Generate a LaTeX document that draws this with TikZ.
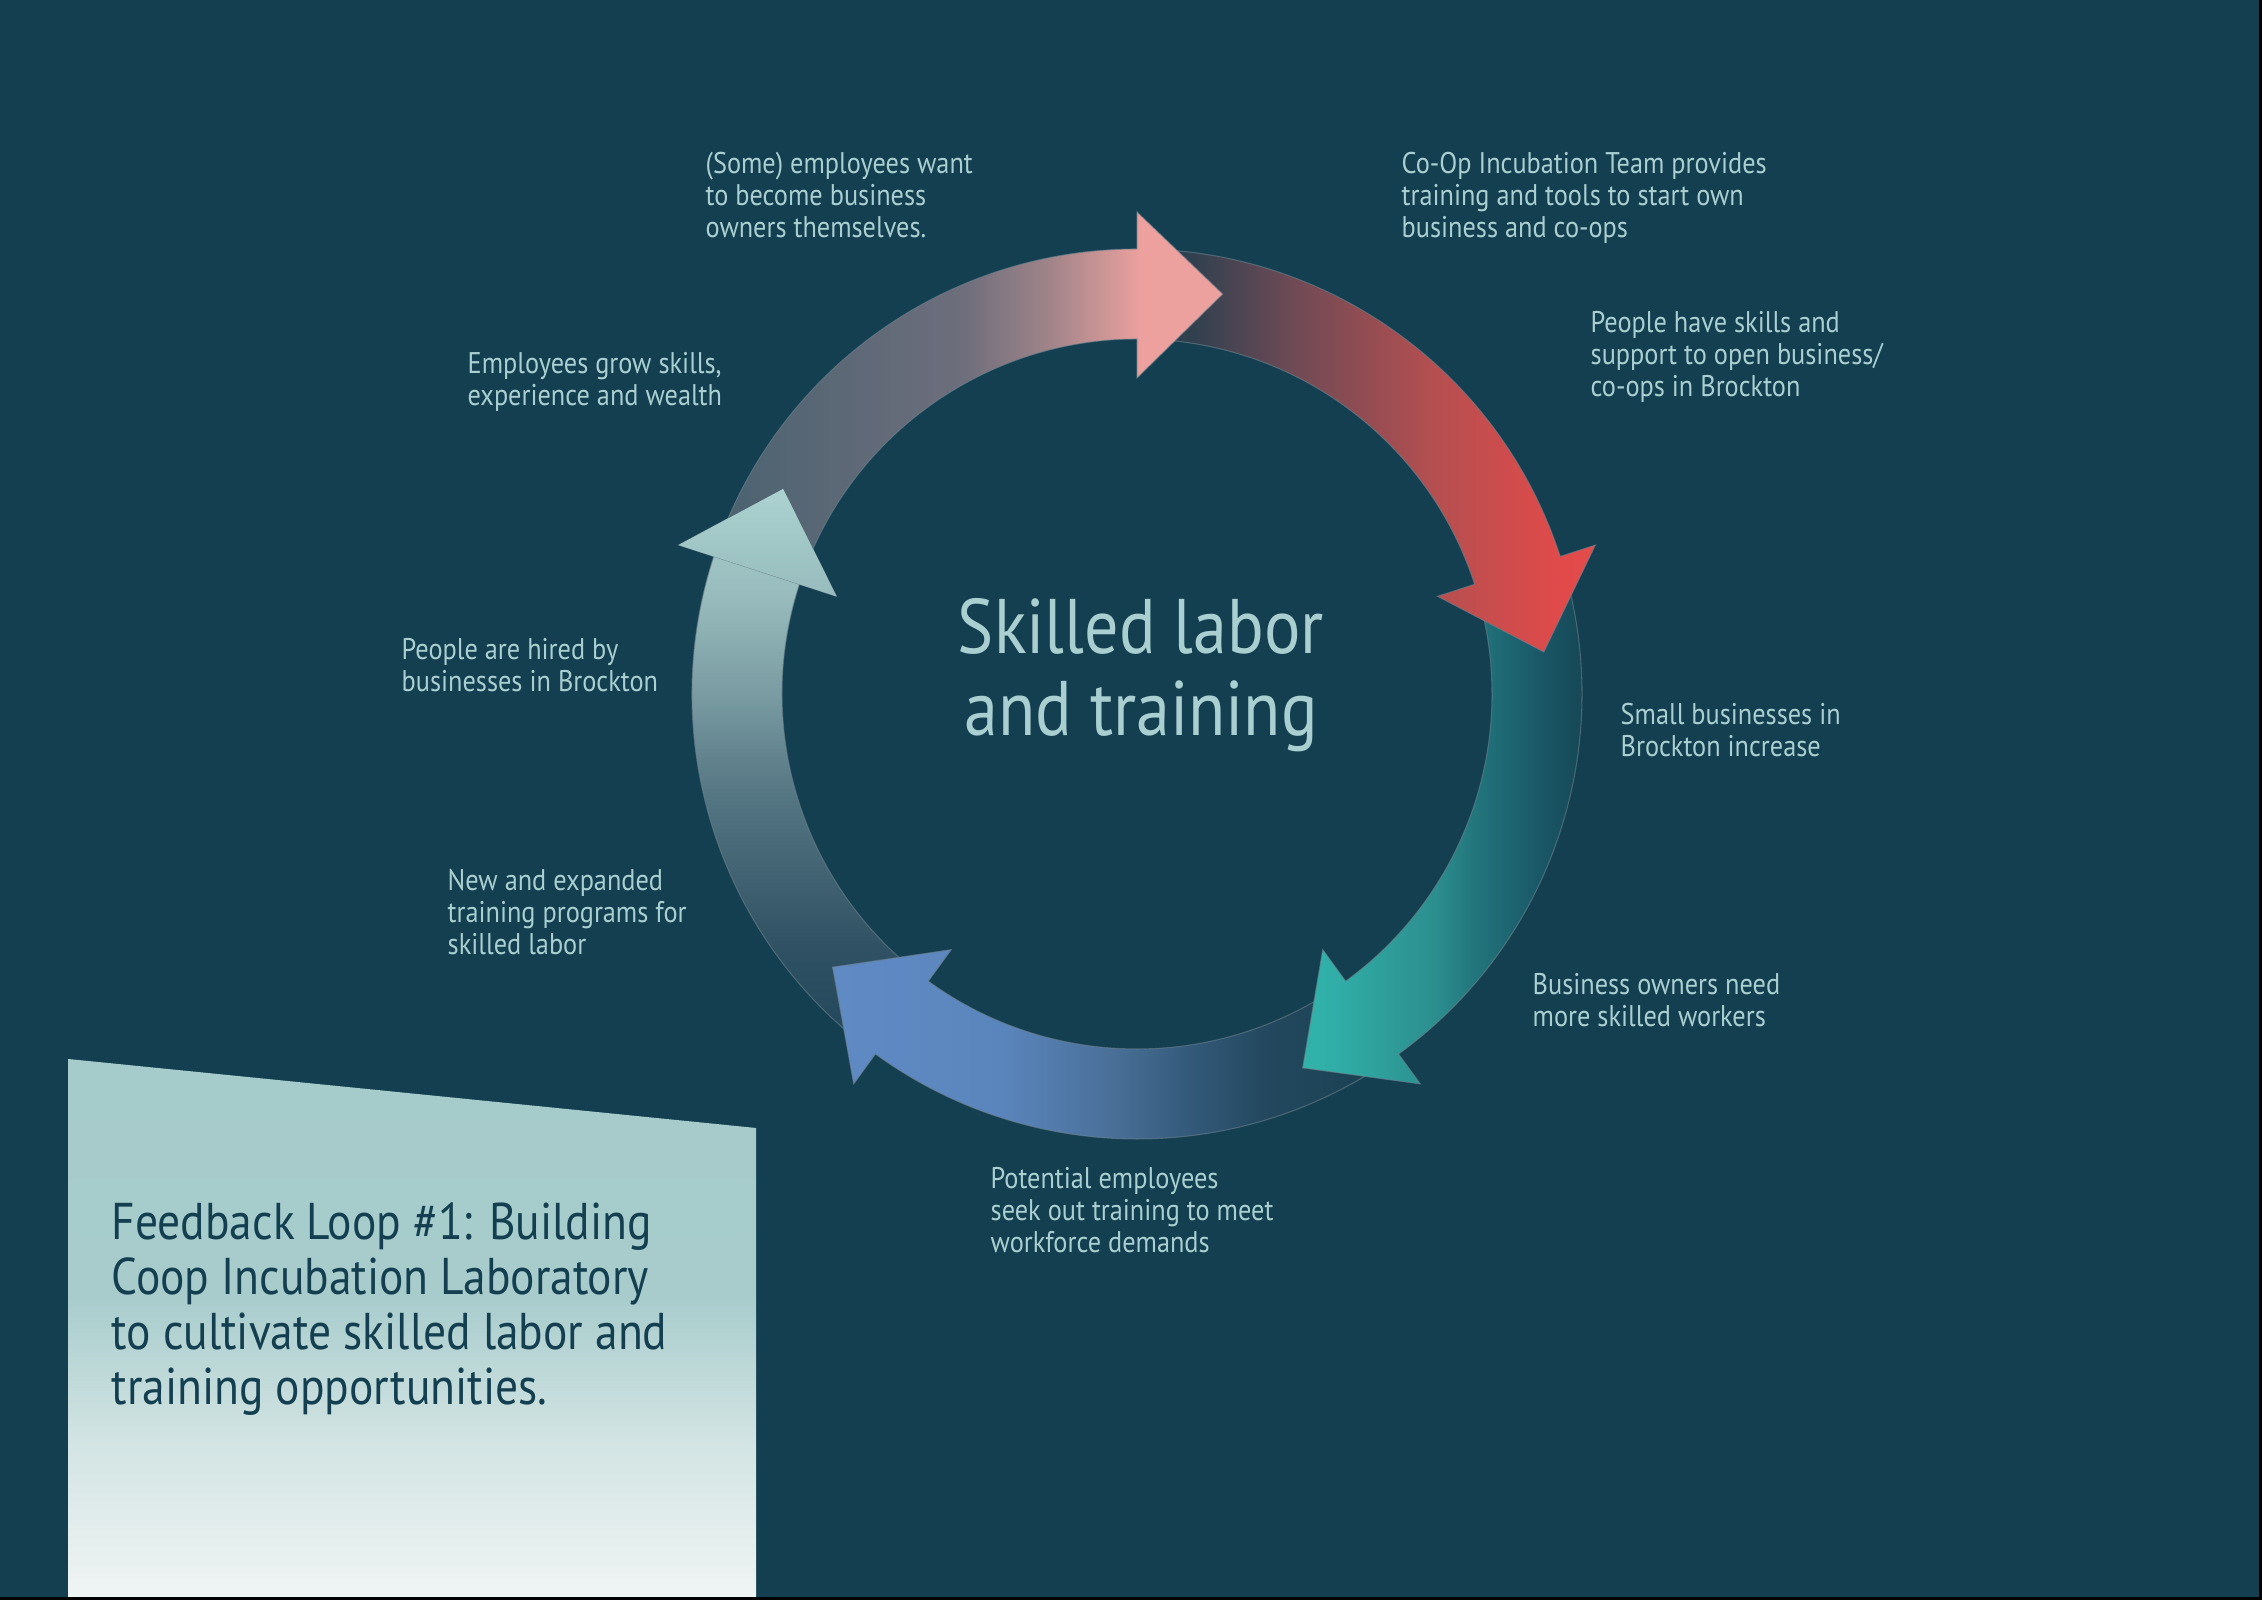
\documentclass[tikz,border=0pt]{standalone}
\usepackage{fontspec}
\setmainfont{PT Sans}[FakeStretch=0.88]
\usetikzlibrary{positioning}

\definecolor{bgteal}{HTML}{133F50}
\definecolor{labeltxt}{HTML}{A9CFD0}
\definecolor{ringedge}{HTML}{6B808C}
% pink arrow
\definecolor{pinkA}{HTML}{4A6270}
\definecolor{pinkB}{HTML}{6E6E7C}
\definecolor{pinkC}{HTML}{A08489}
\definecolor{pinkD}{HTML}{DA9A99}
\definecolor{pinkE}{HTML}{EDA19E}
% red arrow
\definecolor{redA}{HTML}{273F4F}
\definecolor{redB}{HTML}{30404F}
\definecolor{redC}{HTML}{6C4A55}
\definecolor{redD}{HTML}{B54F50}
\definecolor{redE}{HTML}{E14A4A}
\definecolor{redF}{HTML}{E54B4B}
% teal arrow
\definecolor{tealA}{HTML}{31B3AA}
\definecolor{tealB}{HTML}{30AEA7}
\definecolor{tealC}{HTML}{2C8E8E}
\definecolor{tealD}{HTML}{22767C}
\definecolor{tealE}{HTML}{1A5868}
\definecolor{tealF}{HTML}{164654}
\definecolor{tealG}{HTML}{15404F}
% blue arrow
\definecolor{blueA}{HTML}{608AC4}
\definecolor{blueB}{HTML}{5A85BC}
\definecolor{blueC}{HTML}{4A7099}
\definecolor{blueD}{HTML}{355B7C}
\definecolor{blueE}{HTML}{23485F}
\definecolor{blueF}{HTML}{17404F}
% light arrow
\definecolor{lightA}{HTML}{21465A}
\definecolor{lightB}{HTML}{2F5163}
\definecolor{lightC}{HTML}{557683}
\definecolor{lightD}{HTML}{7A9CA2}
\definecolor{lightE}{HTML}{98BCBD}
\definecolor{lightF}{HTML}{ABD1D0}
% note box
\definecolor{boxA}{HTML}{EFF5F4}
\definecolor{boxB}{HTML}{D2E4E3}
\definecolor{boxC}{HTML}{A8CCCC}
\definecolor{boxD}{HTML}{A6CBCB}

\pgfdeclarehorizontalshading{pinkshade}{100bp}{color(0bp)=(pinkA); color(25bp)=(pinkA); color(49.5bp)=(pinkB); color(58bp)=(pinkC); color(65bp)=(pinkD); color(67bp)=(pinkE); color(100bp)=(pinkE)}
\pgfdeclarehorizontalshading{redshade}{100bp}{color(0bp)=(redA); color(25bp)=(redA); color(31bp)=(redB); color(41.5bp)=(redC); color(57.5bp)=(redD); color(71bp)=(redE); color(75bp)=(redF); color(100bp)=(redF)}
\pgfdeclarehorizontalshading{tealshade}{100bp}{color(0bp)=(tealA); color(25bp)=(tealA); color(30bp)=(tealB); color(46bp)=(tealC); color(52bp)=(tealD); color(62bp)=(tealE); color(70bp)=(tealF); color(75bp)=(tealG); color(100bp)=(tealG)}
\pgfdeclarehorizontalshading{blueshade}{100bp}{color(0bp)=(blueA); color(25bp)=(blueA); color(40bp)=(blueB); color(49.5bp)=(blueC); color(56bp)=(blueD); color(63bp)=(blueE); color(75bp)=(blueF); color(100bp)=(blueF)}
\pgfdeclareverticalshading{lightshade}{100bp}{color(0bp)=(lightA); color(25bp)=(lightA); color(34.5bp)=(lightB); color(48bp)=(lightC); color(57bp)=(lightD); color(65.5bp)=(lightE); color(75bp)=(lightF); color(100bp)=(lightF)}
\pgfdeclareverticalshading{boxshade}{100bp}{color(0bp)=(boxA); color(25bp)=(boxA); color(39.5bp)=(boxB); color(53bp)=(boxC); color(75bp)=(boxD); color(100bp)=(boxD)}

\tikzset{
	ringline/.style={draw=ringedge, draw opacity=0.6, line width=0.3pt},
	ringarrow/.style 2 args={insert path={
		(#1:445) arc[start angle=#1, end angle=#2, radius=445]
		-- (#2:482) -- ({#2-12.1}:409) -- (#2:316) -- (#2:355)
		arc[start angle=#2, end angle=#1, radius=355] -- cycle}},
	lbl/.style={text=labeltxt, align=left, anchor=west, inner sep=0pt,
		font=\fontsize{8.5}{9.05}\selectfont},
}

\begin{document}
\begin{tikzpicture}[x=0.01cm, y=0.01cm]
	
	% 1. Background and frame
	\fill[bgteal] (0,0) rectangle (2262,1600);
	\fill[black] (0,0) rectangle (2262,3);
	\fill[black] (2259,0) rectangle (2262,1600);
	
	% 2. The loop: five arrows, clockwise
	\begin{scope}[shift={(1137,906)}]
		\shade[shading=lightshade, ringline, ringarrow={234}{162}];
		\shade[shading=blueshade, ringline, ringarrow={-54}{-126}];
		\shade[shading=tealshade, ringline, ringarrow={18}{-54}];
		\shade[shading=redshade, ringline, ringarrow={90}{18}];
		\shade[shading=pinkshade, ringline, ringarrow={162}{90}];
		% head of the light arrow lies over the pink tail
		\shade[top color=lightF, bottom color=lightE] (162:482) -- (149.9:409) -- (162:316) -- cycle;
	\end{scope}
	
	% 3. Centre title
	\node[text=labeltxt, align=center, font=\fontsize{22}{23.3}\selectfont] (title) at (1141,925)
		{Skilled labor\\and training};
	
	% 4. Step labels round the loop
	\node[lbl] (wantown) at (705,1405) {(Some) employees want\\to become business\\owners themselves.};
	\node[lbl] (coopteam) at (1401,1402) {Co-Op Incubation Team provides\\training and tools to start own\\business and co-ops};
	\node[lbl] (skillsopen) at (1590,1243) {People have skills and\\support to open business/\\co-ops in Brockton};
	\node[lbl] (smallbiz) at (1620,870) {Small businesses in\\Brockton increase};
	\node[lbl] (ownersneed) at (1532,600) {Business owners need\\more skilled workers};
	\node[lbl] (seektrain) at (990,390) {Potential employees\\seek out training to meet\\workforce demands};
	\node[lbl] (newprog) at (447,688) {New and expanded\\training programs for\\skilled labor};
	\node[lbl] (hired) at (401,935) {People are hired by\\businesses in Brockton};
	\node[lbl] (grow) at (467,1218) {Employees grow skills,\\experience and wealth};
	
	% 5. Note box, bottom left
	\shade[shading=boxshade] (68,541) -- (756,472) -- (756,3) -- (68,3) -- cycle;
	\node[text=bgteal, align=left, anchor=west, inner sep=0pt,
		font=\fontsize{14.7}{15.6}\selectfont] (loopnote) at (111,291)
		{Feedback Loop \#1: Building\\Coop Incubation Laboratory\\to cultivate skilled labor and\\training opportunities.};
	
\end{tikzpicture}
\end{document}
